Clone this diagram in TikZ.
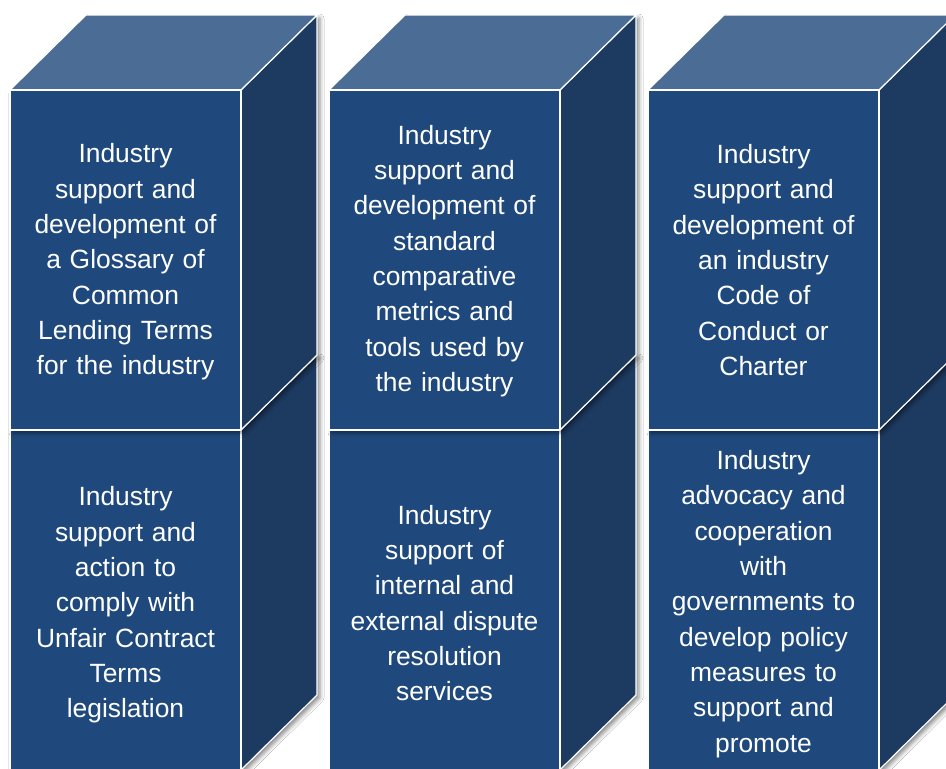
\documentclass[tikz,border=0pt]{standalone}
\usepackage{fontspec}
\setmainfont{Liberation Sans}
\usetikzlibrary{shadows.blur}
\definecolor{frontc}{RGB}{31,73,125}
\definecolor{topc}{RGB}{75,108,148}
\definecolor{sidec}{RGB}{29,58,97}
\tikzset{
  face/.style={draw=white, line width=1.2pt, line join=round},
  frontbox/.style={face, fill=frontc, minimum width=231pt, minimum height=340pt,
    inner sep=0pt, text width=225pt, align=center, text=white,
    font=\fontsize{26.4}{35.3}\selectfont},
  cubeshadow/.style={fill=white, blur shadow={shadow xshift=3pt, shadow yshift=-3pt,
    shadow blur radius=4pt, shadow opacity=45}}
}
% #1 left x, #2 front top y, #3 name, #4 text, #5 text shift
\newcommand\mycube[5]{%
  \path[cubeshadow] (#1,#2) -- (#1+76,#2-75) -- (#1+307,#2-75) -- (#1+307,#2+265)
     -- (#1+231,#2+340) -- (#1,#2+340) -- cycle;
  \path[face, fill=sidec] (#1+231,#2) -- (#1+307,#2-75) -- (#1+307,#2+265)
     -- (#1+231,#2+340) -- cycle;
  \path[face, fill=topc] (#1,#2) -- (#1+76,#2-75) -- (#1+307,#2-75)
     -- (#1+231,#2) -- cycle;
  \node[frontbox] (#3) at (#1+115.5,#2+170) {};
  \node[text width=225pt, align=center, text=white, inner sep=0pt,
    font=\fontsize{26.4}{35.3}\selectfont] (#3text) at (#1+115.5,#2+170+#5) {#4};
}
\begin{document}
\begin{tikzpicture}[x=1pt,y=-1pt]
\clip (0,0) rectangle (946,769);
\fill[white] (0,0) rectangle (946,769);
% column 1
\mycube{10}{430}{b1}{Industry\\support and\\action to\\comply with\\Unfair Contract\\Terms\\legislation}{5}
\mycube{10}{90}{t1}{Industry\\support and\\development of\\a Glossary of\\Common\\Lending Terms\\for the industry}{2}
% column 2
\mycube{329}{430}{b2}{Industry\\support of\\internal and\\external dispute\\resolution\\services}{3}
\mycube{329}{90}{t2}{Industry\\support and\\development of\\standard\\comparative\\metrics and\\tools used by\\the industry}{1}
% column 3
\mycube{648}{430}{b3}{Industry\\advocacy and\\cooperation\\with\\governments to\\develop policy\\measures to\\support and\\promote}{4}
\mycube{648}{90}{t3}{Industry\\support and\\development of\\an industry\\Code of\\Conduct or\\Charter}{0}
\end{tikzpicture}
\end{document}
